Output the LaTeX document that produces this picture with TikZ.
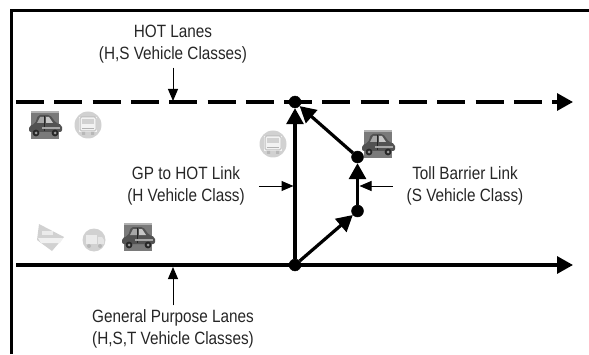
\documentclass[tikz,border=0pt]{standalone}
\usepackage{fontspec}
\setmainfont[FakeStretch=0.86]{Liberation Sans}
\usetikzlibrary{arrows.meta}

\tikzset{
    junction/.style = {draw = black, fill = black, circle, inner sep = 0pt, minimum size = 12pt},
    lanelabel/.style = {align = center, font = \fontsize{17.8}{22.5}\selectfont, text = black!85, inner xsep = 14pt, inner ysep = 4pt},
    pics/car/.style = {code = {
        \fill[black!52] (-14,-14) rectangle (14,14);
        \fill[black!30] (-14,12) rectangle (14,14);
        \fill[black!68, rounded corners = 2pt] (-16,-7) -- (-16,-1) -- (-10,1) -- (-7,10) -- (5,10) -- (11,2) -- (17,0) -- (17,-7) -- cycle;
        \fill[black!35] (-5,8) -- (-1,8) -- (-1,2) -- (-8,2) -- cycle;
        \fill[black!22] (1,8) -- (4,8) -- (8,2) -- (1,2) -- cycle;
        \draw[black!85, line width = 0.8pt] (-1,9) -- (-1,-6);
        \fill[black!35] (-3,-2) rectangle (15,-4);
        \fill[black!85] (-9,-8) circle (3.4pt) (10,-8) circle (3.4pt);
        \fill[black!40] (-9,-8) circle (1.5pt) (10,-8) circle (1.5pt);
    }},
    pics/bus/.style = {code = {
        \fill[black!18] (0,0) circle (13.5pt);
        \fill[black!5] (-9,-7) rectangle (9,8);
        \draw[black!25, line width = 1pt, rounded corners = 1.5pt] (-8,-6) rectangle (8,8);
        \fill[black!18] (-6,1) rectangle (6,6);
        \fill[black!30] (-6,-4) rectangle (6,-3);
        \fill[black!28] (-6,-10) rectangle (-3,-7) (3,-10) rectangle (6,-7);
    }},
    pics/truck/.style = {code = {
        \fill[black!18] (0,0) circle (11.5pt);
        \fill[black!8] (-8,-4) rectangle (3,5);
        \fill[black!10] (4,-4) -- (4,3) -- (8,3) -- (10,0) -- (10,-4) -- cycle;
        \fill[black!28] (-5,-6) circle (2pt) (6,-6) circle (2pt);
    }},
    pics/boat/.style = {code = {
        \fill[black!18] (-11,13) -- (14,0) -- (2,-14) -- (-13,-3) -- cycle;
        \fill[black!6] (-12,-1) -- (13,-1) -- (10,-6) -- (-9,-6) -- cycle;
        \fill[black!8] (-8,2) -- (3,2) -- (3,6) -- (-8,6) -- cycle;
    }}
}

\begin{document}
\begin{tikzpicture}[> = {Triangle[length = 16pt, width = 17pt]}, % arrow head style
                x = 1pt, y = 1pt,
                lane/.style = {line width = 3.2pt},
                pointer/.style = {-{Triangle[length = 12pt, width = 10pt]}, line width = 1pt}
            ]
            \useasboundingbox (0,0) rectangle (589,354);

            % frame is only open on two sides
            \draw[line width = 3pt] (11,0) -- (11,343) -- (589,343);

            % vehicles
            \pic at (45,229) {car};
            \pic at (88,229) {bus};
            \pic at (273,210) {bus};
            \pic at (378,210) {car};
            \pic at (50,117) {boat};
            \pic at (94,114) {truck};
            \pic at (138,117) {car};

            \coordinate (hotstart) at (16,252);
            \coordinate (hotend) at (573,252);
            \coordinate (gpstart) at (16,89);
            \coordinate (gpend) at (573,89);
            \coordinate (hotpoint) at (173,253);
            \coordinate (gppoint) at (173,87);

            \node[junction] (top) at (295,252) {};
            \node[junction] (bottom) at (295,89) {};
            \node[junction] (upper) at (357.5,197) {};
            \node[junction] (lower) at (357.5,143) {};

            \draw[lane, ->, dash pattern = on 28pt off 10.3pt] (hotstart) -- (hotend);
            \draw[lane, ->] (gpstart) -- (gpend);
            \draw[lane, ->] (bottom) -- (top);
            \draw[lane, ->] (bottom) -- (lower);
            \draw[lane, ->] (lower) -- (upper);
            \draw[lane, ->] (upper) -- (top);

            \node[lanelabel] (hotlabel) at (173,310) {HOT Lanes\\(H,S Vehicle Classes)};
            \node[lanelabel] (gplabel) at (173,25) {General Purpose Lanes\\(H,S,T Vehicle Classes)};
            \node[lanelabel] (linklabel) at (186,168) {GP to HOT Link\\(H Vehicle Class)};
            \node[lanelabel] (tolllabel) at (465,168) {Toll Barrier Link\\(S Vehicle Class)};

            \coordinate (linkpoint) at (293.5,168);
            \coordinate (tollpoint) at (359.5,168);

            \draw[pointer] (hotlabel) -- (hotpoint);
            \draw[pointer] (gplabel) -- (gppoint);
            \draw[pointer] (linklabel) -- (linkpoint);
            \draw[pointer] (tolllabel) -- (tollpoint);
\end{tikzpicture}
\end{document}
